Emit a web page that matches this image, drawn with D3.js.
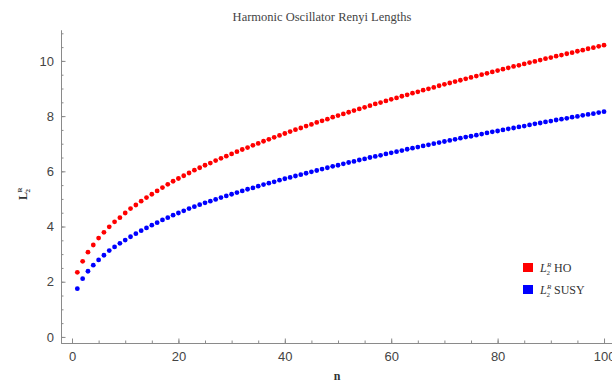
<!DOCTYPE html>
<html>
<head>
  <meta charset="utf-8">
  <title>Harmonic Oscillator Renyi Lengths</title>
  <style>
    body { margin: 0; background: #fff; }
    .tick text { font-family: "Liberation Sans", Arial, sans-serif; font-size: 13px; fill: #444; }
    .axis path, .axis line { stroke: #8a8a8a; }
  </style>
</head>
<body>
  <svg width="612" height="383"></svg>
  <script src="https://d3js.org/d3.v7.min.js"></script>
  <script>
  // values, n = 1..100
  var hoValues = [
    2.34, 2.74, 3.07, 3.33, 3.58, 3.79, 3.99, 4.17, 4.32, 4.49,
    4.65, 4.78, 4.92, 5.05, 5.17, 5.29, 5.41, 5.53, 5.64, 5.74,
    5.84, 5.94, 6.04, 6.13, 6.22, 6.30, 6.39, 6.47, 6.55, 6.63,
    6.71, 6.79, 6.86, 6.94, 7.01, 7.09, 7.16, 7.23, 7.30, 7.37,
    7.44, 7.51, 7.57, 7.64, 7.70, 7.77, 7.83, 7.89, 7.96, 8.02,
    8.08, 8.14, 8.20, 8.26, 8.32, 8.38, 8.44, 8.49, 8.55, 8.61,
    8.66, 8.72, 8.77, 8.83, 8.88, 8.94, 8.99, 9.04, 9.10, 9.15,
    9.20, 9.25, 9.30, 9.35, 9.40, 9.45, 9.50, 9.55, 9.60, 9.65,
    9.70, 9.75, 9.80, 9.84, 9.89, 9.94, 9.98, 10.03, 10.08, 10.12,
    10.17, 10.21, 10.26, 10.30, 10.35, 10.39, 10.44, 10.48, 10.53, 10.57
  ];
  var susyValues = [
    1.75, 2.11, 2.38, 2.60, 2.79, 2.96, 3.13, 3.26, 3.39, 3.51,
    3.63, 3.74, 3.85, 3.95, 4.05, 4.14, 4.24, 4.32, 4.41, 4.49,
    4.57, 4.65, 4.72, 4.79, 4.86, 4.92, 4.98, 5.05, 5.11, 5.17,
    5.23, 5.29, 5.35, 5.40, 5.46, 5.52, 5.57, 5.62, 5.68, 5.73,
    5.78, 5.83, 5.88, 5.93, 5.98, 6.03, 6.08, 6.13, 6.18, 6.22,
    6.27, 6.32, 6.36, 6.41, 6.45, 6.50, 6.54, 6.58, 6.63, 6.67,
    6.71, 6.75, 6.80, 6.84, 6.88, 6.92, 6.96, 7.00, 7.04, 7.08,
    7.12, 7.16, 7.20, 7.24, 7.27, 7.31, 7.35, 7.39, 7.43, 7.46,
    7.50, 7.54, 7.57, 7.61, 7.64, 7.68, 7.72, 7.75, 7.79, 7.82,
    7.86, 7.89, 7.92, 7.96, 7.99, 8.03, 8.06, 8.09, 8.13, 8.16
  ];
  var xTicks = [0, 20, 40, 60, 80, 100];
  var yTicks = [0, 2, 4, 6, 8, 10];
  var seriesNames = ['HO', 'SUSY'];
  var seriesColors = ['#ff0000', '#0000ff'];

  var svg = d3.select('svg');

  var x = d3.scaleLinear().domain([-2.07, 101.5]).range([61, 612]);
  var y = d3.scaleLinear().domain([-0.22, 11.12]).range([343, 30]);

  // minor ticks first, then major ones with labels
  svg.append('g')
    .attr('class', 'axis')
    .attr('transform', 'translate(0,343)')
    .call(d3.axisBottom(x).tickValues(d3.range(0, 101, 5)).tickSizeInner(-2.5).tickSizeOuter(0).tickFormat(''));
  svg.append('g')
    .attr('class', 'axis')
    .attr('transform', 'translate(0,343)')
    .call(d3.axisBottom(x).tickValues(xTicks).tickSizeInner(-4.5).tickSizeOuter(0).tickPadding(9));

  svg.append('g')
    .attr('class', 'axis')
    .attr('transform', 'translate(61,0)')
    .call(d3.axisLeft(y).tickValues(d3.range(0, 11.01, 0.5)).tickSizeInner(-2.5).tickSizeOuter(0).tickFormat(''));
  svg.append('g')
    .attr('class', 'axis')
    .attr('transform', 'translate(61,0)')
    .call(d3.axisLeft(y).tickValues(yTicks).tickSizeInner(-4.5).tickSizeOuter(0).tickPadding(7));

  // points
  [hoValues, susyValues].forEach(function(vals, i) {
    svg.append('g')
      .selectAll('circle')
      .data(vals)
      .enter()
      .append('circle')
      .attr('cx', function(d, j) { return x(j + 1); })
      .attr('cy', function(d) { return y(d); })
      .attr('r', 2.4)
      .attr('fill', seriesColors[i]);
  });

  // title
  svg.append('text')
    .attr('x', 322)
    .attr('y', 21)
    .attr('text-anchor', 'middle')
    .style('font-family', '"Liberation Serif", "Times New Roman", serif')
    .style('font-size', '12.5px')
    .style('fill', '#444')
    .text('Harmonic Oscillator Renyi Lengths');

  // axis labels
  svg.append('text')
    .attr('x', 337)
    .attr('y', 380)
    .attr('text-anchor', 'middle')
    .style('font-family', '"Liberation Serif", serif')
    .style('font-weight', 'bold')
    .style('font-size', '12px')
    .style('fill', '#333')
    .text('n');

  var yl = svg.append('g')
    .attr('transform', 'translate(27,200) rotate(-90)')
    .style('font-family', '"Liberation Serif", serif')
    .style('font-weight', 'bold')
    .style('fill', '#333');
  yl.append('text').attr('x', 0).attr('y', 0).style('font-size', '12px').text('L');
  yl.append('text').attr('x', 7.5).attr('y', 3).style('font-size', '7px').text('2');
  yl.append('text').attr('x', 7.5).attr('y', -5).style('font-size', '7px').text('R');

  // legend
  seriesNames.forEach(function(name, i) {
    var ly = 268 + i * 22;
    var lg = svg.append('g')
      .style('font-family', '"Liberation Serif", serif')
      .style('fill', '#333');
    lg.append('rect')
      .attr('x', 523).attr('y', ly - 5)
      .attr('width', 10).attr('height', 9)
      .attr('fill', seriesColors[i]);
    lg.append('text').attr('x', 540).attr('y', ly + 4)
      .style('font-style', 'italic').style('font-size', '12px').text('L');
    lg.append('text').attr('x', 547).attr('y', ly - 1)
      .style('font-style', 'italic').style('font-size', '7px').text('R');
    lg.append('text').attr('x', 546.5).attr('y', ly + 7)
      .style('font-size', '7px').text('2');
    lg.append('text').attr('x', 554).attr('y', ly + 4)
      .style('font-size', '12px').text(name);
  });
  </script>
</body>
</html>
